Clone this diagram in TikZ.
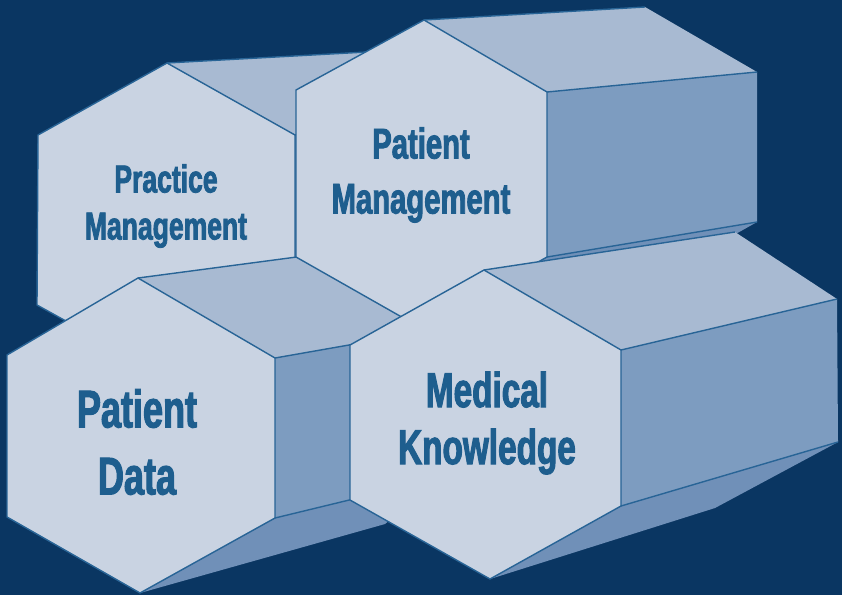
\documentclass[tikz,border=0pt]{standalone}
\usepackage{fontspec}
\newfontfamily\condfont[FakeStretch=0.68,FakeBold=2]{Liberation Sans Bold}
\definecolor{navy}{RGB}{10,54,98}
\definecolor{facefront}{RGB}{201,211,226}
\definecolor{facetop}{RGB}{168,186,210}
\definecolor{faceside}{RGB}{125,156,192}
\definecolor{facebottom}{RGB}{112,144,184}
\definecolor{edgeblue}{RGB}{40,100,150}
\definecolor{textblue}{RGB}{30,94,142}

\begin{document}
\begin{tikzpicture}[x=1pt,y=-1pt,
  front/.style={fill=facefront},
  top/.style={fill=facetop},
  side/.style={fill=faceside},
  bottom/.style={fill=facebottom},
  edge/.style={draw=edgeblue,line width=1.4pt,line join=round},
  title/.style={text=textblue,align=center,inner sep=0pt}]
% Background
\fill[navy] (0,0) rectangle (842,595);

% Corners of each prism: front hexagon, then the back corners (b)
\coordinate (prac-T) at (167,63);   \coordinate (prac-UR) at (295,135);
\coordinate (prac-LR) at (295,305); \coordinate (prac-B) at (167,377);
\coordinate (prac-LL) at (37,305);  \coordinate (prac-UL) at (38,135);
\coordinate (prac-Tb) at (385,51);  \coordinate (prac-URb) at (490,120);
\coordinate (prac-LRb) at (490,290); \coordinate (prac-Bb) at (360,360);

\coordinate (pdat-T) at (138,278);  \coordinate (pdat-UR) at (275,358);
\coordinate (pdat-LR) at (275,518); \coordinate (pdat-B) at (140,593);
\coordinate (pdat-LL) at (7,517);   \coordinate (pdat-UL) at (7,355);
\coordinate (pdat-Tb) at (342,251); \coordinate (pdat-URb) at (440,329);
\coordinate (pdat-LRb) at (440,478); \coordinate (pdat-Bb) at (385,524);

\coordinate (pman-T) at (424,20);   \coordinate (pman-UR) at (547,92);
\coordinate (pman-LR) at (547,257); \coordinate (pman-B) at (421,328);
\coordinate (pman-LL) at (296,257); \coordinate (pman-UL) at (296,90);
\coordinate (pman-Tb) at (645,7);   \coordinate (pman-URb) at (757,72);
\coordinate (pman-LRb) at (757,222); \coordinate (pman-Bb) at (656,279);

\coordinate (med-T) at (484,270);   \coordinate (med-UR) at (621,350);
\coordinate (med-LR) at (621,506);  \coordinate (med-B) at (490,579);
\coordinate (med-LL) at (350,500);  \coordinate (med-UL) at (350,345);
\coordinate (med-Tb) at (735,232);  \coordinate (med-URb) at (837,299);
\coordinate (med-LRb) at (838,442); \coordinate (med-Bb) at (715,508);

% Draw the prisms from back to front
\foreach \p in {prac,pdat,pman,med} {
  \fill[front] (\p-T) -- (\p-UR) -- (\p-LR) -- (\p-B) -- (\p-LL) -- (\p-UL) -- cycle;
  \fill[top] (\p-T) -- (\p-Tb) -- (\p-URb) -- (\p-UR) -- cycle;
  \fill[side] (\p-UR) -- (\p-URb) -- (\p-LRb) -- (\p-LR) -- cycle;
  \fill[bottom] (\p-LR) -- (\p-LRb) -- (\p-Bb) -- (\p-B) -- cycle;
  \draw[edge] (\p-T) -- (\p-UR) -- (\p-LR) -- (\p-B) -- (\p-LL) -- (\p-UL) -- cycle;
  \draw[edge] (\p-T) -- (\p-Tb) (\p-UR) -- (\p-URb) (\p-LR) -- (\p-LRb);
}

% Labels on the front faces
\node[title,font=\condfont\fontsize{39}{47}\selectfont] (prac) at (166,206) {Practice\\Management};
\node[title,font=\condfont\fontsize{43}{55}\selectfont] (pman) at (421,175) {Patient\\Management};
\node[title,font=\condfont\fontsize{53}{67}\selectfont] (pdat) at (137,442) {Patient\\Data};
\node[title,font=\condfont\fontsize{49}{57}\selectfont] (med) at (487,423) {Medical\\Knowledge};
\end{tikzpicture}
\end{document}
